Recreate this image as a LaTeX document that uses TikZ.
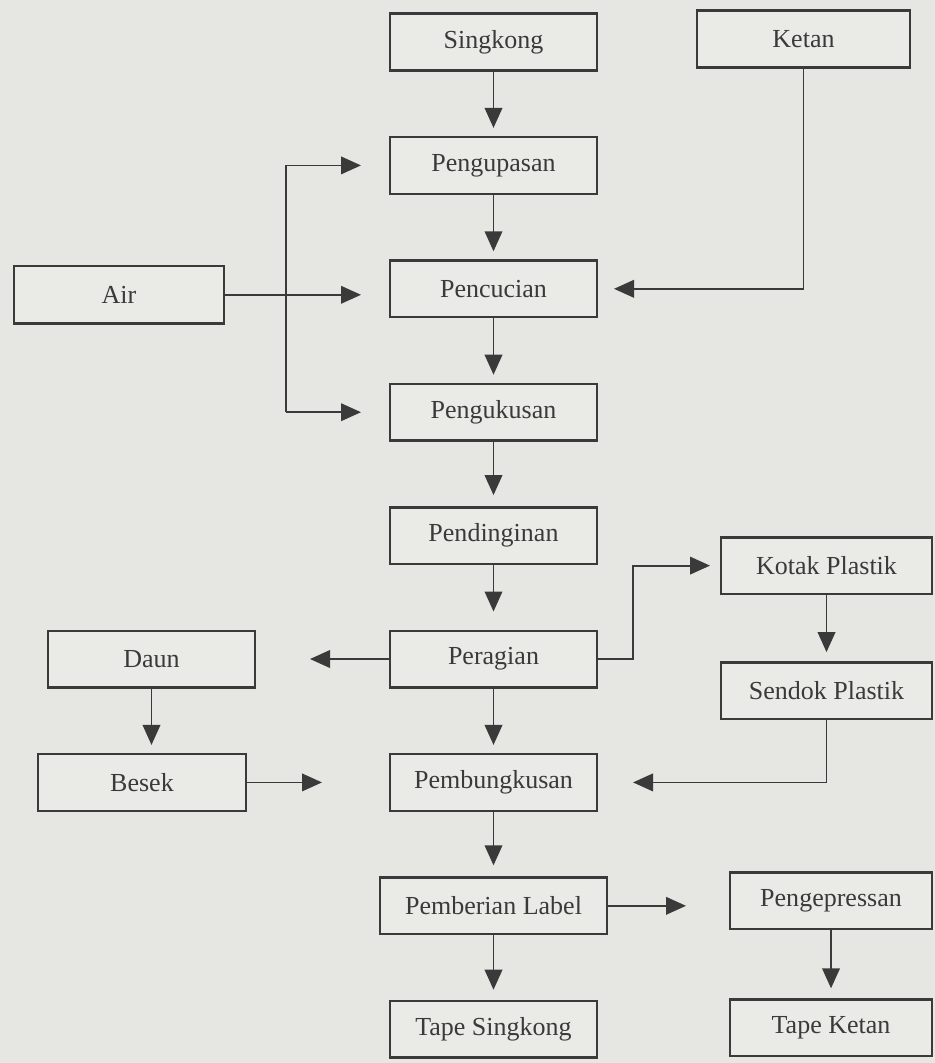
\documentclass[tikz,border=0pt]{standalone}
\usepackage{fontspec}
\setmainfont{Liberation Serif}
\usetikzlibrary{positioning,arrows.meta,calc}
\definecolor{paper}{HTML}{E6E6E3}
\definecolor{boxf}{HTML}{EAEAE7}
\definecolor{ink}{HTML}{3A3A3A}
\tikzset{
  proc/.style={draw=ink,line width=.6mm,fill=boxf,minimum width=51.65mm,minimum height=14.15mm,
               inner sep=0pt,text=ink,font=\fontsize{18.5}{20}\selectfont},
  fl/.style={-{Triangle[length=5mm,width=4.4mm]},draw=ink,line width=.45mm,shorten >=2mm},
  ln/.style={draw=ink,line width=.45mm}
}

\begin{document}
\begin{tikzpicture}[x=.25mm,y=-.25mm,node distance=16.1mm]
\fill[paper] (0,0) rectangle (935,1063);
\useasboundingbox (0,0) rectangle (935,1063);

% main column
\node[proc] (singkong) at (493.5,42) {Singkong};
\node[proc,below=of singkong] (kupas) {Pengupasan};
\node[proc,below=of kupas] (cuci) {Pencucian};
\node[proc,below=of cuci] (kukus) {Pengukusan};
\node[proc,below=of kukus] (dingin) {Pendinginan};
\node[proc,below=of dingin] (ragi) {Peragian};
\node[proc,below=of ragi] (bungkus) {Pembungkusan};
\node[proc,below=of bungkus,minimum width=56.65mm] (label) {Pemberian Label};
\node[proc,below=of label] (tsingkong) {Tape Singkong};

% side inputs and outputs
\node[proc,right=24.5mm of singkong,yshift=.75mm,minimum width=53.15mm] (ketan) {Ketan};
\node[proc,left=41mm of cuci,yshift=-1.5mm,minimum width=52.4mm,minimum height=14.4mm] (air) {Air};
\node[proc,right=30.5mm of dingin,yshift=-7.5mm,minimum width=52.65mm] (kotak) {Kotak Plastik};
\node[proc,below=16.5mm of kotak,minimum width=52.65mm] (sendok) {Sendok Plastik};
\node[proc,left=33.25mm of ragi] (daun) {Daun};
\node[proc,left=35.5mm of bungkus,minimum width=51.9mm] (besek) {Besek};
\node[proc,right=30.25mm of label,yshift=1.25mm,minimum width=50.4mm] (tekan) {Pengepressan};
\node[proc,below=17mm of tekan,minimum width=50.4mm] (tketan) {Tape Ketan};

% water branch
\coordinate (jt) at ($(kupas.west)+(-103,0)$);
\coordinate (jb) at (jt |- kukus.west);

\draw[fl] (singkong) -- (kupas);
\draw[fl] (kupas) -- (cuci);
\draw[fl] (cuci) -- (kukus);
\draw[fl,shorten >=2.75mm] (kukus) -- (dingin);
\draw[fl,shorten >=4.5mm] (dingin) -- (ragi);
\draw[fl] (ragi) -- (bungkus);
\draw[fl,shorten >=2.75mm] (bungkus) -- (label);
\draw[fl,shorten >=2.5mm] (label) -- (tsingkong);

\draw[ln] (jt) -- (jb);
\draw[fl,shorten >=7mm] (jt) -- (kupas.west);
\draw[fl,shorten >=7mm] (jb) -- (kukus.west);
\draw[fl,shorten >=7mm] (air.east) -- (air.east -| cuci.west);
\draw[fl,shorten >=4mm] (ketan.south) |- (cuci.east);

\draw[fl,shorten >=13.5mm] (ragi.west) -- (daun.east);
\draw[fl,shorten >=2.5mm] (ragi.east) -- ++(35,0) |- (kotak.west);
\draw[fl,shorten >=2.25mm] (kotak.south) -- (sendok.north);
\draw[fl] (daun.south) -- (daun.south |- besek.north);
\draw[fl,shorten >=16.75mm] (besek.east) -- (besek.east -| bungkus.west);
\draw[fl,shorten >=8.75mm] (sendok.south) |- (bungkus.east);
\draw[fl,shorten >=10.75mm] (label.east) -- (label.east -| tekan.west);
\draw[fl,shorten >=2.5mm] (tekan.south) -- (tketan.north);
\end{tikzpicture}
\end{document}
